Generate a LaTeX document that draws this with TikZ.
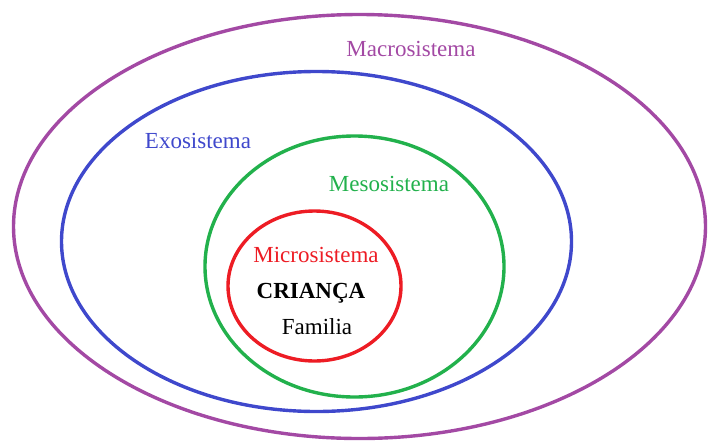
\documentclass[tikz,border=0pt]{standalone}
\usepackage{fontspec}
\setmainfont{Liberation Serif}
\definecolor{macroC}{RGB}{163,73,164}
\definecolor{exoC}{RGB}{63,72,204}
\definecolor{mesoC}{RGB}{34,177,76}
\definecolor{microC}{RGB}{237,28,36}
\begin{document}
\begin{tikzpicture}[x=1pt,y=-1pt,
  ring/.style={line width=3.4pt},
  lbl/.style={font=\fontsize{23}{26}\selectfont, inner sep=0pt, anchor=base}]
\useasboundingbox (0,0) rectangle (708,442);
\draw[ring, macroC] (359.5,226.5) ellipse [x radius=346pt, y radius=212pt];
\draw[ring, exoC] (316.5,241.5) ellipse [x radius=255pt, y radius=170pt];
\draw[ring, mesoC] (354.5,266.5) ellipse [x radius=149.5pt, y radius=130.5pt];
\draw[ring, microC] (314.5,286) ellipse [x radius=86.5pt, y radius=75pt];
\node[lbl, text=macroC] (macro) at (411,56) {Macrosistema};
\node[lbl, text=exoC] (exo) at (198,148) {Exosistema};
\node[lbl, text=mesoC] (meso) at (389,191) {Mesosistema};
\node[lbl, text=microC] (micro) at (316,262) {Microsistema};
\node[lbl, font=\fontsize{23}{26}\selectfont\bfseries] (crianca) at (311,298) {CRIANÇA};
\node[lbl] (familia) at (317,334) {Familia};
\end{tikzpicture}
\end{document}
